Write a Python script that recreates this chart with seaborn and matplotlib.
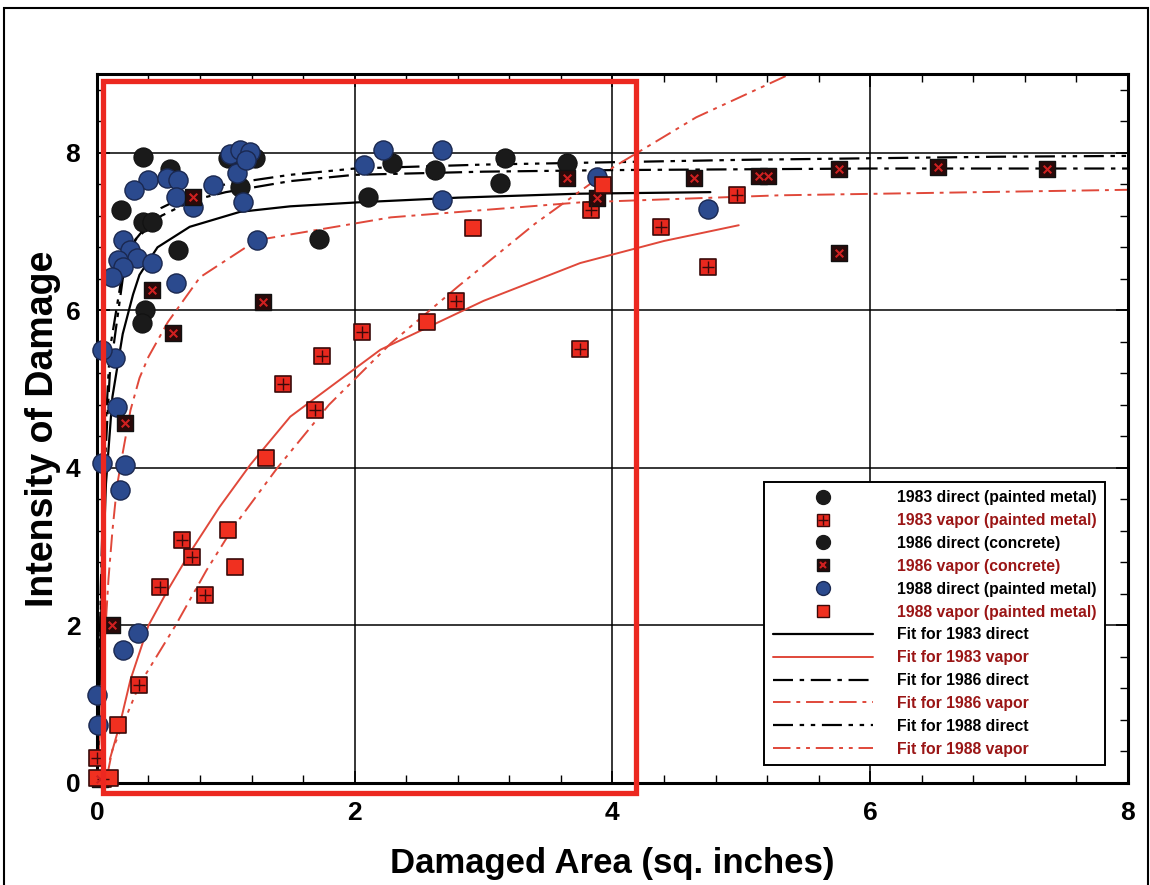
import numpy as np
import pandas as pd
import matplotlib
matplotlib.use("Agg")
import matplotlib.pyplot as plt
import seaborn as sns
from matplotlib.lines import Line2D
from matplotlib.patches import Rectangle
from matplotlib.ticker import MultipleLocator

# --- data ---
d83_x = [0.36, 0.19, 0.36, 0.63, 0.37, 1.11, 1.72, 2.10, 3.13, 1.23]
d83_y = [7.94, 7.27, 7.12, 6.76, 6.00, 7.56, 6.90, 7.44, 7.61, 7.93]

d86_x = [0.57, 0.43, 0.35, 1.02, 2.62, 3.17, 2.29, 3.65]
d86_y = [7.80, 7.12, 5.84, 7.93, 7.78, 7.93, 7.87, 7.87]

d88_x = [0.40, 0.54, 0.63, 0.29, 0.61, 0.20, 0.26, 0.31, 0.16, 0.20, 0.12, 0.43,
         0.61, 0.90, 1.13, 0.745, 1.03, 1.11, 1.19, 1.09, 1.16, 1.24, 0.14, 0.04,
         0.155, 0.04, 0.22, 0.18, 0.32, 0.20, 0.0, 0.01, 2.22, 2.07, 2.68, 2.68,
         3.88, 4.74]
d88_y = [7.66, 7.68, 7.65, 7.53, 7.44, 6.89, 6.76, 6.67, 6.64, 6.55, 6.42, 6.60,
         6.35, 7.59, 7.37, 7.31, 7.99, 8.03, 8.01, 7.74, 7.91, 6.89, 5.39, 5.50,
         4.77, 4.06, 4.04, 3.72, 1.90, 1.69, 1.12, 0.74, 8.03, 7.84, 8.03, 7.40,
         7.69, 7.28]

v83_x = [0.66, 0.74, 0.49, 0.84, 0.33, 0.0, 1.44, 1.69, 1.75, 2.06, 2.79, 3.75,
         3.83, 4.38, 4.74, 4.97, 0.05]
v83_y = [3.08, 2.87, 2.49, 2.39, 1.24, 0.32, 5.07, 4.73, 5.42, 5.72, 6.12, 5.51,
         7.27, 7.06, 6.55, 7.46, 0.05]

v86_x = [0.43, 0.745, 1.29, 0.59, 0.22, 0.12, 3.65, 3.88, 4.63, 5.14, 5.21, 5.76,
         5.76, 6.53, 7.37, 0.02]
v86_y = [6.26, 7.44, 6.10, 5.71, 4.57, 2.00, 7.68, 7.42, 7.68, 7.70, 7.70, 7.79,
         6.73, 7.82, 7.79, 0.05]

v88_x = [1.31, 1.02, 1.07, 0.16, 0.10, 0.0, 2.56, 2.92, 3.93]
v88_y = [4.12, 3.21, 2.74, 0.74, 0.06, 0.06, 5.85, 7.05, 7.59]

# fit curves, points picked along each drawn line
f83d_x = [0.005, 0.03, 0.07, 0.12, 0.2, 0.28, 0.33, 0.47, 0.72, 1.11, 1.5, 2.02, 2.8, 3.73, 4.76]
f83d_y = [0.0, 2.0, 3.8, 4.9, 5.7, 6.2, 6.45, 6.8, 7.06, 7.25, 7.32, 7.37, 7.43, 7.48, 7.50]

f83v_x = [0.10, 0.18, 0.26, 0.40, 0.55, 0.72, 0.95, 1.19, 1.5, 2.2, 3.0, 3.75, 4.4, 4.98]
f83v_y = [0.30, 0.76, 1.31, 2.00, 2.45, 2.92, 3.50, 4.04, 4.65, 5.50, 6.12, 6.60, 6.88, 7.08]

f86d_x = [0.005, 0.03, 0.06, 0.1, 0.2, 0.3, 0.5, 0.75, 1.0, 1.5, 2.0, 3.0, 4.0, 5.0, 6.0, 7.0, 8.0]
f86d_y = [0.0, 2.5, 4.3, 5.5, 6.5, 6.9, 7.2, 7.4, 7.5, 7.64, 7.72, 7.76, 7.78, 7.79, 7.80, 7.80, 7.80]

f86v_x = [0.0, 0.03, 0.06, 0.09, 0.12, 0.155, 0.19, 0.26, 0.33, 0.40, 0.55, 0.80, 1.24,
          2.28, 3.75, 5.3, 8.0]
f86v_y = [0.0, 0.8, 1.8, 2.6, 3.2, 3.76, 4.10, 4.73, 5.14, 5.41, 5.85, 6.42, 6.89,
          7.18, 7.37, 7.46, 7.53]

f88d_x = [0.005, 0.03, 0.06, 0.1, 0.2, 0.3, 0.5, 0.75, 1.0, 1.5, 2.0, 3.0, 4.0, 5.0, 6.0, 7.0, 8.0]
f88d_y = [0.0, 2.2, 4.0, 5.2, 6.4, 6.9, 7.3, 7.5, 7.6, 7.72, 7.8, 7.85, 7.88, 7.91, 7.93, 7.95, 7.96]

f88v_x = [0.08, 0.12, 0.33, 0.61, 0.85, 1.06, 1.40, 1.80, 2.28, 2.80, 3.40, 4.01, 4.65, 5.38]
f88v_y = [0.10, 0.42, 1.25, 2.00, 2.70, 3.25, 4.00, 4.80, 5.58, 6.30, 7.10, 7.82, 8.45, 9.0]

# --- style ---
sns.set_theme(style="white")
plt.rcParams['font.family'] = ['Liberation Sans', 'DejaVu Sans']

BLACK = "#1a1a1a"
BLUE = "#2b4a8e"
RED = "#e8281e"
DKRED = "#9a1515"
LINE_RED = "#e0483a"
dashdot = (0, (9, 3, 2, 3))
dashdotdot = (0, (9, 3, 2, 3, 2, 3))

fig = plt.figure(figsize=(11.5, 8.85), dpi=100)
ax = fig.add_axes([0.0843, 0.1153, 0.8965, 0.8011])

# fit lines
sns.lineplot(x=f83d_x, y=f83d_y, sort=False, estimator=None, color="black", linewidth=1.6, ax=ax, legend=False)
sns.lineplot(x=f83v_x, y=f83v_y, sort=False, estimator=None, color=LINE_RED, linewidth=1.4, ax=ax, legend=False)
sns.lineplot(x=f86d_x, y=f86d_y, sort=False, estimator=None, color="black", linewidth=1.6, linestyle=dashdot, ax=ax, legend=False)
sns.lineplot(x=f86v_x, y=f86v_y, sort=False, estimator=None, color=LINE_RED, linewidth=1.4, linestyle=dashdot, ax=ax, legend=False)
sns.lineplot(x=f88d_x, y=f88d_y, sort=False, estimator=None, color="black", linewidth=1.6, linestyle=dashdotdot, ax=ax, legend=False)
sns.lineplot(x=f88v_x, y=f88v_y, sort=False, estimator=None, color=LINE_RED, linewidth=1.4, linestyle=dashdotdot, ax=ax, legend=False)

# points
pt = dict(ax=ax, legend=False, clip_on=False, zorder=4)
sns.scatterplot(x=d83_x, y=d83_y, marker="o", s=190, color=BLACK, edgecolor="#111111", linewidth=0.8, **pt)
sns.scatterplot(x=d86_x, y=d86_y, marker="o", s=190, color=BLACK, edgecolor="#111111", linewidth=0.8, **pt)
sns.scatterplot(x=d88_x, y=d88_y, marker="o", s=190, color=BLUE, edgecolor="#1a2850", linewidth=1.0, **pt)
sns.scatterplot(x=v83_x, y=v83_y, marker="s", s=130, color=RED, edgecolor="#3a0a0a", linewidth=1.2, **pt)
sns.scatterplot(x=v83_x, y=v83_y, marker="+", s=80, color="#3a0a0a", linewidth=1.0, ax=ax, legend=False, clip_on=False, zorder=5)
sns.scatterplot(x=v86_x, y=v86_y, marker="s", s=130, color="#2a0a0a", edgecolor="#111111", linewidth=1.0, **pt)
sns.scatterplot(x=v86_x, y=v86_y, marker="x", s=30, color="#d02020", linewidth=1.5, ax=ax, legend=False, clip_on=False, zorder=5)
sns.scatterplot(x=v88_x, y=v88_y, marker="s", s=130, color="#f03020", edgecolor="#3a0a0a", linewidth=1.2, **pt)

# axes
ax.set_xlim(0, 8)
ax.set_ylim(0, 9)
ax.xaxis.set_major_locator(MultipleLocator(2))
ax.yaxis.set_major_locator(MultipleLocator(2))
ax.xaxis.set_minor_locator(MultipleLocator(0.4))
ax.yaxis.set_minor_locator(MultipleLocator(0.4))
ax.grid(True, which="major", color="black", linewidth=1.1)
ax.set_axisbelow(True)
ax.tick_params(which="both", direction="in", top=True, right=True, bottom=True, left=True,
               color="black", labelcolor="black", labelsize=19)
ax.tick_params(axis="x", pad=13)
ax.tick_params(axis="y", pad=12)
ax.tick_params(which="major", length=9, width=1.2)
ax.tick_params(which="minor", length=6, width=1.0)
for lab in ax.get_xticklabels() + ax.get_yticklabels():
    lab.set_fontweight("bold")
for sp in ax.spines.values():
    sp.set_color("black")
    sp.set_linewidth(2.2)

ax.set_xlabel("Damaged Area (sq. inches)", fontsize=25, fontweight="bold", labelpad=16, color="black")
ax.set_ylabel("Intensity of Damage", fontsize=27, fontweight="bold", labelpad=3, color="black")

# legend
handles = [
    Line2D([], [], linestyle="none", marker="o", markersize=10, color=BLACK),
    (Line2D([], [], linestyle="none", marker="s", markersize=9, markerfacecolor=RED, markeredgecolor="#3a0a0a"),
     Line2D([], [], linestyle="none", marker="+", markersize=7, markeredgecolor="#3a0a0a", markeredgewidth=1.0)),
    Line2D([], [], linestyle="none", marker="o", markersize=10, color=BLACK),
    (Line2D([], [], linestyle="none", marker="s", markersize=9, markerfacecolor="#2a0a0a", markeredgecolor="#111111"),
     Line2D([], [], linestyle="none", marker="x", markersize=4, markeredgecolor="#d02020", markeredgewidth=1.5)),
    Line2D([], [], linestyle="none", marker="o", markersize=10, markerfacecolor=BLUE, markeredgecolor="#1a2850"),
    Line2D([], [], linestyle="none", marker="s", markersize=9, markerfacecolor="#f03020", markeredgecolor="#3a0a0a"),
    Line2D([], [], color="black", linewidth=1.6),
    Line2D([], [], color=LINE_RED, linewidth=1.4),
    Line2D([], [], color="black", linewidth=1.6, linestyle=dashdot),
    Line2D([], [], color=LINE_RED, linewidth=1.4, linestyle=dashdot),
    Line2D([], [], color="black", linewidth=1.6, linestyle=dashdotdot),
    Line2D([], [], color=LINE_RED, linewidth=1.4, linestyle=dashdotdot),
]
labels = ["1983 direct (painted metal)", "1983 vapor (painted metal)",
          "1986 direct (concrete)", "1986 vapor (concrete)",
          "1988 direct (painted metal)", "1988 vapor (painted metal)",
          "Fit for 1983 direct", "Fit for 1983 vapor",
          "Fit for 1986 direct", "Fit for 1986 vapor",
          "Fit for 1988 direct", "Fit for 1988 vapor"]
leg = ax.legend(handles, labels, loc="lower right", bbox_to_anchor=(0.978, 0.025),
                borderaxespad=0, fontsize=11.3, handlelength=6.4, handletextpad=1.5,
                labelspacing=0.5, borderpad=0.55, frameon=True, fancybox=False, framealpha=1)
leg.get_frame().set_edgecolor("black")
leg.get_frame().set_linewidth(1.4)
for i, t in enumerate(leg.get_texts()):
    t.set_fontweight("bold")
    t.set_color(DKRED if i % 2 == 1 else "black")
leg.set_zorder(10)

# highlight box and outer frame
ax.add_patch(Rectangle((0.05, -0.13), 4.13, 9.04, fill=False, edgecolor="#ec2820",
                       linewidth=3.8, clip_on=False, zorder=6))
fig.patches.append(Rectangle((0.0035, -0.01), 0.9945, 1.001, transform=fig.transFigure,
                             fill=False, edgecolor="black", linewidth=1.5))

fig.savefig("out.png", dpi=100)
